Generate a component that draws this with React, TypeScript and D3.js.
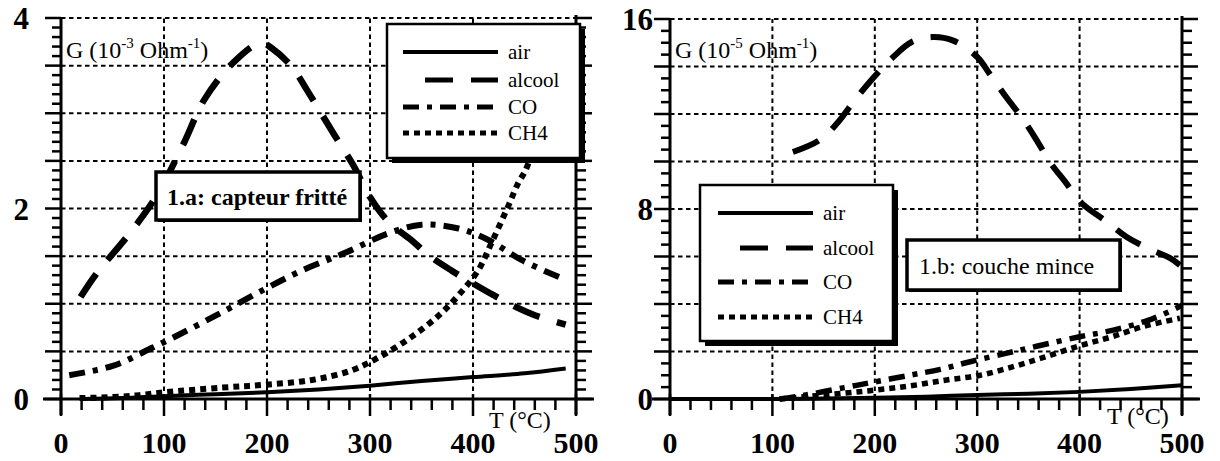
import * as d3 from 'd3';
import React from 'react';

// shared x axis (temperature, °C)
const xTickLabels = [0, 100, 200, 300, 400, 500];
const xGridValues = [100, 200, 300, 400];
const seriesNames = ['air', 'alcool', 'CO', 'CH4'];

// 1.a: capteur fritté, G in 10^-3 Ohm^-1
const aAirT = [20, 60, 100, 150, 200, 250, 300, 350, 400, 450, 490];
const aAirG = [0, 0.01, 0.03, 0.05, 0.07, 0.1, 0.14, 0.19, 0.23, 0.27, 0.32];
const aAlcoolT = [19, 34, 66, 92, 119, 139, 168, 194, 205, 224, 239, 265, 284, 300, 318, 340, 357, 379, 399, 420, 441, 460, 490];
const aAlcoolG = [1.07, 1.31, 1.73, 2.12, 2.68, 3.14, 3.54, 3.74, 3.68, 3.49, 3.24, 2.78, 2.45, 2.12, 1.86, 1.67, 1.51, 1.35, 1.22, 1.09, 0.97, 0.88, 0.78];
const aCoT = [8, 51, 89, 108, 151, 192, 234, 277, 318, 350, 386, 415, 447, 490];
const aCoG = [0.25, 0.35, 0.54, 0.64, 0.88, 1.12, 1.35, 1.54, 1.74, 1.83, 1.79, 1.67, 1.46, 1.25];
const aCh4T = [18, 50, 76, 100, 157, 199, 244, 282, 309, 340, 367, 386, 405, 418, 434, 444, 451, 462, 472];
const aCh4G = [0.01, 0.02, 0.04, 0.07, 0.12, 0.15, 0.2, 0.3, 0.44, 0.65, 0.88, 1.09, 1.35, 1.64, 2.02, 2.27, 2.4, 2.75, 3.05];
const aYLabels = [0, 2, 4];

// 1.b: couche mince, G in 10^-5 Ohm^-1
const bAirT = [0, 100, 150, 200, 250, 300, 350, 400, 450, 500];
const bAirG = [0, 0, 0.02, 0.05, 0.1, 0.17, 0.22, 0.3, 0.42, 0.58];
const bAlcoolT = [120, 146, 163, 179, 195, 217, 236, 256, 276, 300, 312, 329, 344, 358, 371, 386, 402, 427, 446, 466, 488, 498];
const bAlcoolG = [10.4, 10.9, 11.6, 12.5, 13.35, 14.36, 15.03, 15.24, 15.1, 14.4, 13.7, 12.67, 11.83, 10.9, 9.98, 9.14, 8.25, 7.45, 6.82, 6.36, 5.94, 5.64];
const bCoT = [107, 130, 169, 195, 234, 264, 293, 329, 358, 400, 433, 466, 491, 500];
const bCoG = [0, 0.15, 0.47, 0.68, 1.0, 1.25, 1.57, 1.93, 2.22, 2.62, 2.9, 3.3, 3.75, 3.95];
const bCh4T = [107, 153, 195, 234, 270, 303, 335, 364, 400, 430, 462, 498];
const bCh4G = [0, 0.18, 0.35, 0.55, 0.8, 1.0, 1.36, 1.74, 2.24, 2.6, 3.05, 3.4];
const bYLabels = [0, 8, 16];

const serif = '"Liberation Serif", "DejaVu Serif", serif';

const zip = (t: number[], g: number[]) => t.map((v, i) => [v, g[i]] as [number, number]);

const panels = [
  {
    x0: 61, x1: 576, yTop: 18, yBot: 399, yMax: 4, grid: 0.5, minor: 0.1,
    yLabels: aYLabels, expo: '-3', labelRight: 29,
    series: [zip(aAirT, aAirG), zip(aAlcoolT, aAlcoolG), zip(aCoT, aCoG), zip(aCh4T, aCh4G)],
    widths: [4, 6.5, 6, 6],
    legend: { x: 387, y: 24, w: 193, h: 134, rows: [52, 80, 107, 133], lx0: 403, lx1: 498, tx: 508 },
    title: { x: 156, y: 172, w: 204, h: 48, text: '1.a: capteur fritté', tx: 167, ty: 205, weight: 'bold' },
    tLabelX: 489, tLabelY: 428,
  },
  {
    x0: 670, x1: 1182, yTop: 19, yBot: 399, yMax: 16, grid: 2, minor: 0.5,
    yLabels: bYLabels, expo: '-5', labelRight: 653,
    series: [zip(bAirT, bAirG), zip(bAlcoolT, bAlcoolG), zip(bCoT, bCoG), zip(bCh4T, bCh4G)],
    widths: [4, 6, 5.5, 5.5],
    legend: { x: 700, y: 185, w: 193, h: 156, rows: [213, 248, 282, 317], lx0: 718, lx1: 813, tx: 823 },
    title: { x: 907, y: 240, w: 213, h: 50, text: '1.b: couche mince', tx: 919, ty: 274, weight: 'normal' },
    tLabelX: 1107, tLabelY: 424,
  },
];

const dashes = [undefined, '28 18', '16 8 5 8', '6 5'];

const Panel: React.FC<{ p: typeof panels[number] }> = ({ p }) => {
  const x = d3.scaleLinear().domain([0, 500]).range([p.x0, p.x1]);
  const y = d3.scaleLinear().domain([0, p.yMax]).range([p.yBot, p.yTop]);
  const line = d3.line<[number, number]>()
    .x(d => x(d[0]))
    .y(d => y(d[1]))
    .curve(d3.curveCatmullRom.alpha(0.5));

  const gridY = d3.range(p.grid, p.yMax + 1e-6, p.grid);
  const minorY = d3.range(0, p.yMax + 1e-6, p.minor);
  const xTicks = d3.range(0, 501, 20);
  const isMajorY = (v: number) => Math.abs(v / p.grid - Math.round(v / p.grid)) < 1e-6;
  const L = p.legend;
  const T = p.title;

  return (
    <g>
      {/* dashed grid */}
      <g stroke="#000" strokeWidth={2} strokeDasharray="4.5 3.5" fill="none">
        {gridY.map(v => (
          <line key={'h' + v} x1={x(0)} x2={x(500)} y1={y(v)} y2={y(v)} />
        ))}
        {xGridValues.map(v => (
          <line key={'v' + v} x1={x(v)} x2={x(v)} y1={y(0)} y2={y(p.yMax)} />
        ))}
      </g>

      {/* axes */}
      <g stroke="#000" fill="none">
        <line x1={x(0) - 18} x2={x(500) + 18} y1={y(0)} y2={y(0)} strokeWidth={3} />
        <line x1={x(0)} x2={x(0)} y1={y(0) + 16} y2={y(p.yMax)} strokeWidth={3} />
        <line x1={x(500)} x2={x(500)} y1={y(0) + 16} y2={y(p.yMax) - 3} strokeWidth={3} />
        {xTicks.map(v => (
          <line key={'xt' + v} x1={x(v)} x2={x(v)}
            y1={v % 100 === 0 ? y(0) - 5 : y(0)} y2={y(0) + (v % 100 === 0 ? 17 : 11)} strokeWidth={2.5} />
        ))}
        {minorY.map(v => (
          <g key={'yt' + v}>
            <line x1={x(0) - (isMajorY(v) ? 16 : 9)} x2={x(0)} y1={y(v)} y2={y(v)} strokeWidth={2.5} />
            <line x1={x(500)} x2={x(500) + (isMajorY(v) ? 16 : 10)} y1={y(v)} y2={y(v)} strokeWidth={2.5} />
          </g>
        ))}
      </g>

      {/* curves */}
      {p.series.map((s, i) => (
        <path key={'s' + i} d={line(s) ?? ''} fill="none" stroke="#000"
          strokeWidth={p.widths[i]} strokeDasharray={dashes[i]} />
      ))}

      {/* legend */}
      <rect x={L.x + 5} y={L.y + 5} width={L.w} height={L.h} fill="#000" />
      <rect x={L.x} y={L.y} width={L.w} height={L.h} fill="#fff" stroke="#000" strokeWidth={2.5} />
      {seriesNames.map((n, i) => (
        <g key={'l' + n}>
          <line x1={i === 1 ? L.lx0 + 22 : L.lx0} x2={L.lx1} y1={L.rows[i]} y2={L.rows[i]}
            stroke="#000" strokeWidth={i === 0 ? 4 : 5} strokeDasharray={dashes[i]} />
          <text x={L.tx} y={L.rows[i] + 7} fontFamily={serif} fontSize={21}>{n}</text>
        </g>
      ))}

      {/* title box */}
      <rect x={T.x + 2} y={T.y + 2} width={T.w} height={T.h} fill="#000" />
      <rect x={T.x} y={T.y} width={T.w} height={T.h} fill="#fff" stroke="#000" strokeWidth={3.5} />
      <text x={T.tx} y={T.ty} fontFamily={serif} fontSize={24} fontWeight={T.weight}>{T.text}</text>

      {/* labels */}
      <text x={x(0) + 5} y={58} fontFamily={serif} fontSize={24}>
        G (10<tspan fontSize={15} dy={-10}>{p.expo}</tspan>
        <tspan dy={10}> Ohm</tspan><tspan fontSize={15} dy={-10}>-1</tspan><tspan dy={10}>)</tspan>
      </text>
      <text x={p.tLabelX} y={p.tLabelY} fontFamily={serif} fontSize={24}>T (°C)</text>
      {p.yLabels.map(v => (
        <text key={'yl' + v} x={p.labelRight} y={y(v) + 11} textAnchor="end"
          fontFamily={serif} fontSize={31} fontWeight="bold">{v}</text>
      ))}
      {xTickLabels.map(v => (
        <text key={'xl' + v} x={x(v)} y={453} textAnchor="middle"
          fontFamily={serif} fontSize={30} fontWeight="bold">{v}</text>
      ))}
    </g>
  );
};

const App: React.FC = () => (
  <svg width={1220} height={461} viewBox="0 0 1220 461"
    style={{ position: 'absolute', left: 0, top: 0, background: '#fff' }}>
    <rect width={1220} height={461} fill="#fff" />
    {panels.map((p, i) => <Panel key={i} p={p} />)}
  </svg>
);

export default App;
